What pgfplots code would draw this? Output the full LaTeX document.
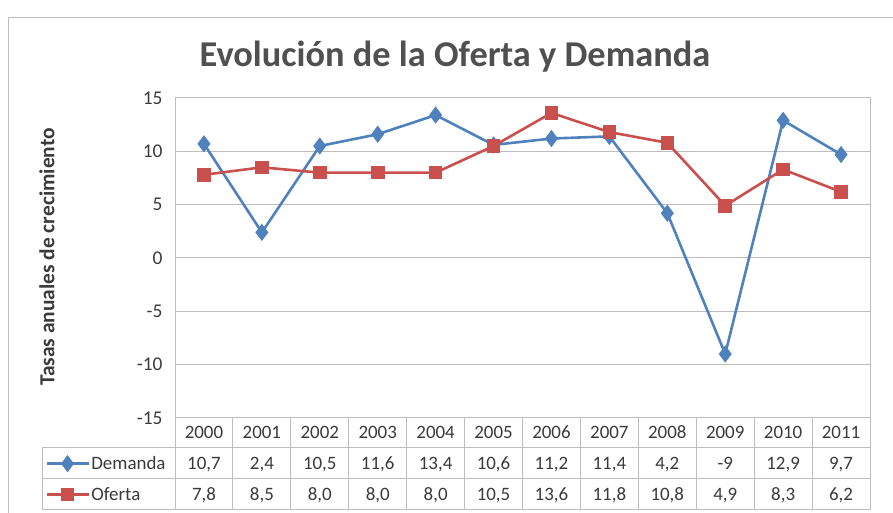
\documentclass[border=0pt]{standalone}
\usepackage{pgfplots}
\pgfplotsset{compat=1.18}
\usepackage{fontspec}
\setmainfont{Carlito}
\definecolor{demblue}{HTML}{4F81BD}
\definecolor{ofred}{HTML}{C9504D}
\definecolor{gridc}{HTML}{BDBDBD}
\definecolor{txt}{HTML}{3A3A3A}
\definecolor{ttl}{HTML}{505050}
\begin{document}
\begin{tikzpicture}[x=1bp,y=1bp]
\path[use as bounding box] (0,0) rectangle (893,513);
\draw[gridc, line width=1bp] (8,0) -- (8,495) -- (893,495);
\node[anchor=base, font=\bfseries\fontsize{36.5}{36.5}\selectfont, text=ttl] at (455,446) {Evolución de la Oferta y Demanda};
\node[rotate=90, font=\bfseries\fontsize{21.5}{21.5}\selectfont, text=txt] at (47,256) {Tasas anuales de crecimiento};
\begin{axis}[
  at={(175bp,95bp)}, anchor=south west,
  scale only axis, width=695bp, height=320bp,
  xmin=-0.5, xmax=11.5, ymin=-15, ymax=15,
  ytick={-15,-10,...,15},
  xtick=\empty,
  minor xtick={0.5,1.5,...,10.5},
  ymajorgrids=true, xminorgrids=true,
  major grid style={gridc, line width=1bp},
  minor grid style={gridc, line width=1bp},
  major tick length=0pt, minor tick length=0pt,
  axis line style={gridc, line width=1bp},
  /pgf/number format/assume math mode=true,
  yticklabel style={font=\fontsize{19.5}{19.5}\selectfont, text=txt, xshift=-9bp},
  clip=false,
  legend entries={Demanda, Oferta},
  legend style={at={(-0.187,-0.09375)}, anchor=north west, draw=none, fill=none,
    inner sep=0pt, row sep=0pt, font=\fontsize{19}{19}\selectfont, text=txt,
    nodes={inner xsep=1.5bp, inner ysep=0pt, minimum height=31bp}},
  legend cell align=left,
  legend image code/.code={\draw[#1, mark repeat=2, mark phase=2] plot coordinates {(0bp,0bp) (21bp,0bp) (42bp,0bp)};},
]
\addplot[demblue, line width=2.6bp, mark=diamond*, mark size=6.5bp, mark options={solid, fill=demblue}]
  coordinates {(0,10.7) (1,2.4) (2,10.5) (3,11.6) (4,13.4) (5,10.6) (6,11.2) (7,11.4) (8,4.2) (9,-9) (10,12.9) (11,9.7)};
\addplot[ofred, line width=2.6bp, mark=square*, mark size=5.5bp, mark options={solid, fill=ofred}]
  coordinates {(0,7.8) (1,8.5) (2,8.0) (3,8.0) (4,8.0) (5,10.5) (6,13.6) (7,11.8) (8,10.8) (9,4.9) (10,8.3) (11,6.2)};
\end{axis}
% data table grid
\foreach \k in {0,...,12} { \draw[gridc, line width=1bp] ({175+57.917*\k},3) -- ({175+57.917*\k},95); }
\draw[gridc, line width=1bp] (42,3) -- (42,65);
\draw[gridc, line width=1bp] (42,65) -- (870,65);
\draw[gridc, line width=1bp] (42,34) -- (870,34);
\draw[gridc, line width=1bp] (42,3) -- (870,3);
\foreach \v [count=\i from 0] in {2000,2001,2002,2003,2004,2005,2006,2007,2008,2009,2010,2011}
  { \node[anchor=base, font=\fontsize{19}{19}\selectfont, text=txt, inner sep=0pt] at ({175+57.917*(\i+0.5)},74) {\v}; }
\foreach \v [count=\i from 0] in {{10,7},{2,4},{10,5},{11,6},{13,4},{10,6},{11,2},{11,4},{4,2},{-9},{12,9},{9,7}}
  { \node[anchor=base, font=\fontsize{19}{19}\selectfont, text=txt, inner sep=0pt] at ({175+57.917*(\i+0.5)},43) {\v}; }
\foreach \v [count=\i from 0] in {{7,8},{8,5},{8,0},{8,0},{8,0},{10,5},{13,6},{11,8},{10,8},{4,9},{8,3},{6,2}}
  { \node[anchor=base, font=\fontsize{19}{19}\selectfont, text=txt, inner sep=0pt] at ({175+57.917*(\i+0.5)},12) {\v}; }
\end{tikzpicture}
\end{document}
